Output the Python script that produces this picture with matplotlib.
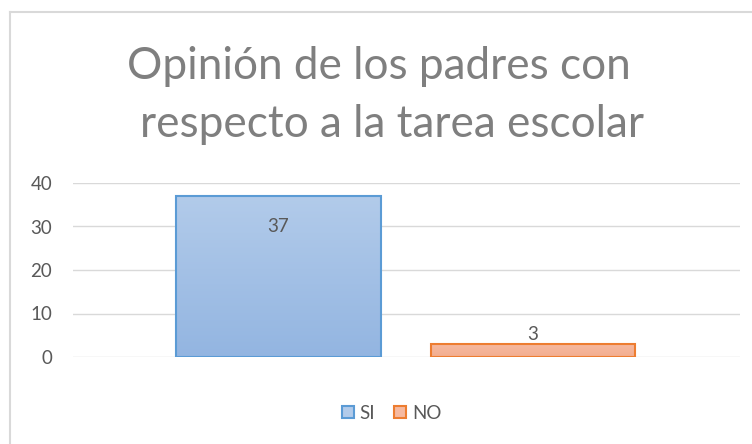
import matplotlib
matplotlib.use("Agg")
import matplotlib.pyplot as plt
import numpy as np
from matplotlib.patches import Patch

series = ["SI", "NO"]
values = [37, 3]
yticks = [0, 10, 20, 30, 40]
title_lines = ["Opinión de los padres con", "respecto a la tarea escolar"]

face_top = ["#b2cbea", "#f6b9a0"]
face_bot = ["#93b5e1", "#f3ae90"]
edges = ["#5b9bd5", "#ed7d31"]

plt.rcParams['font.family'] = ['Lato', 'DejaVu Sans']

W, H = 752, 444
fig = plt.figure(figsize=(W / 100, H / 100), dpi=100)
fig.patch.set_facecolor("white")

# chart border (left and top visible)
fig.add_artist(plt.Line2D([9.5 / W, 9.5 / W], [0, 1 - 12.5 / H], color="#d9d9d9", lw=1.5))
fig.add_artist(plt.Line2D([9.5 / W, 1], [1 - 12.5 / H, 1 - 12.5 / H], color="#d9d9d9", lw=1.5))

ax = fig.add_axes([73 / W, 1 - 357 / H, (740 - 73) / W, (357 - 183) / H])
x = np.arange(len(series))
width = 0.805
bars = ax.bar(x, values, width=width, facecolor="none", edgecolor=edges, linewidth=1.5, zorder=3)
grad = np.linspace(0, 1, 256).reshape(-1, 1)
for i, b in enumerate(bars):
    c0 = np.array(matplotlib.colors.to_rgb(face_top[i]))
    c1 = np.array(matplotlib.colors.to_rgb(face_bot[i]))
    img = c0[None, None, :] * (1 - grad[:, :, None]) + c1[None, None, :] * grad[:, :, None]
    ax.imshow(img, extent=[b.get_x(), b.get_x() + b.get_width(), 0, b.get_height()],
              aspect="auto", zorder=2, origin="upper")

ax.set_xlim(-0.807, 1.813)
ax.set_ylim(0, 40)
ax.set_yticks(yticks)
ax.set_xticks([])
ax.grid(axis="y", color="#d9d9d9", lw=1, zorder=0)
ax.set_axisbelow(True)
for s in ax.spines.values():
    s.set_visible(False)
ax.tick_params(axis="y", length=0, pad=15, labelsize=13.5, labelcolor="#595959")

# data labels
ax.annotate(str(values[0]), (x[0], values[0]), xytext=(0, -22), textcoords="offset points",
            ha="center", va="center", fontsize=13.5, color="#595959", zorder=5)
ax.annotate(str(values[1]), (x[1], values[1]), xytext=(0, 7), textcoords="offset points",
            ha="center", va="center", fontsize=13.5, color="#595959", zorder=5)

# title
fig.text(379 / W, 1 - 79 / H, title_lines[0], ha="center", va="baseline", fontsize=31.8, color="#7f7f7f")
fig.text(392 / W, 1 - 137 / H, title_lines[1], ha="center", va="baseline", fontsize=31.8, color="#7f7f7f")

handles = [Patch(facecolor=face_top[i], edgecolor=edges[i], linewidth=1.5) for i in range(2)]
fig.legend(handles, series, loc="center", bbox_to_anchor=(391.5 / W, 1 - 413 / H), ncol=2, frameon=False,
           fontsize=13.5, labelcolor="#595959", handlelength=0.65, handleheight=0.65, handletextpad=0.3,
           columnspacing=1.0, borderpad=0)

fig.savefig("out.png", dpi=100)
